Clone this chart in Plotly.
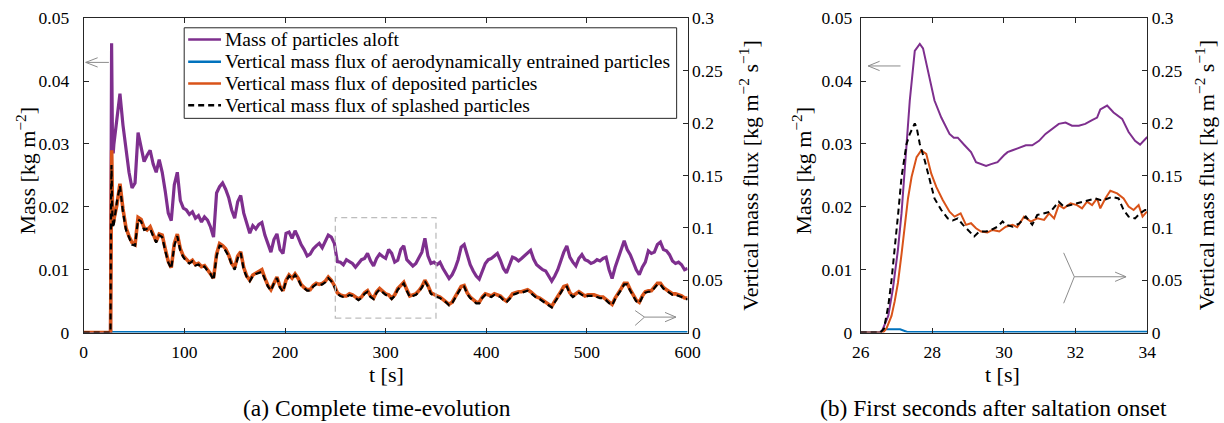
import plotly.graph_objects as go

W, H = 1224, 423
PAGE_MARGIN = 8                       # default body margin of the written page
SX = (W + 2 * PAGE_MARGIN) / W        # page -> picture compensation
SY = (H + 2 * PAGE_MARGIN) / H
FONT = "Liberation Serif, DejaVu Serif, Times New Roman, serif"
AXC = "#262626"

# ---------------- data: panel (a) complete time evolution ----------------
grid_start, grid_step = 30, 3   # regular sampling after onset [s]

t_onset_mass = [0, 26.6, 27.2, 27.7, 28.5, 29.3]
mass_onset = [0, 0, 0.026, 0.046, 0.0316, 0.0285]
mass_grid = [
    0.0300, 0.0345, 0.0380, 0.0330, 0.0290, 0.0255, 0.0230, 0.0238, 0.0318, 0.0295,
    0.0272, 0.0282, 0.0290, 0.0268, 0.0255, 0.0275, 0.0255, 0.0225, 0.0190, 0.0178,
    0.0235, 0.0255, 0.0210, 0.0198, 0.0195, 0.0188, 0.0192, 0.0182, 0.0186, 0.0176,
    0.0184, 0.0179, 0.0168, 0.0152, 0.0222, 0.0232, 0.0238, 0.0228, 0.0215, 0.0195,
    0.0182, 0.0208, 0.0218, 0.0190, 0.0172, 0.0158, 0.0170, 0.0165, 0.0172, 0.0175,
    0.0155, 0.0142, 0.0128, 0.0148, 0.0157, 0.0132, 0.0126, 0.0158, 0.0160, 0.0150,
    0.0162, 0.0152, 0.0140, 0.0132, 0.0122, 0.0125, 0.0133, 0.0138, 0.0142, 0.0135,
    0.0145, 0.0155, 0.0152, 0.0142, 0.0113, 0.0112, 0.0108, 0.0116, 0.0113, 0.0110,
    0.0104, 0.0110, 0.0116, 0.0118, 0.0126, 0.0114, 0.0106, 0.0118, 0.0125, 0.0121,
    0.0118, 0.0132, 0.0126, 0.0112, 0.0115, 0.0132, 0.0138, 0.0116, 0.0110, 0.0106,
    0.0110, 0.0118, 0.0128, 0.0150, 0.0122, 0.0110, 0.0112, 0.0108, 0.0112, 0.0102,
    0.0094, 0.0086, 0.0092, 0.0102, 0.0116, 0.0136, 0.0140, 0.0122, 0.0108, 0.0098,
    0.0090, 0.0085, 0.0098, 0.0110, 0.0116, 0.0118, 0.0122, 0.0126, 0.0115, 0.0102,
    0.0095, 0.0108, 0.0120, 0.0118, 0.0114, 0.0118, 0.0122, 0.0126, 0.0131, 0.0117,
    0.0108, 0.0104, 0.0100, 0.0098, 0.0090, 0.0082, 0.0090, 0.0100, 0.0114, 0.0128,
    0.0138, 0.0120, 0.0112, 0.0106, 0.0118, 0.0124, 0.0116, 0.0114, 0.0110, 0.0112,
    0.0116, 0.0114, 0.0118, 0.0120, 0.0100, 0.0086, 0.0104, 0.0118, 0.0132, 0.0146,
    0.0132, 0.0124, 0.0112, 0.0100, 0.0092, 0.0104, 0.0112, 0.0130, 0.0126, 0.0128,
    0.0140, 0.0144, 0.0132, 0.0130, 0.0124, 0.0114, 0.0110, 0.0112, 0.0108, 0.0100,
    0.0102,
]

t_onset_dep = [0, 26.7, 27.3, 27.8, 28.5, 29.3]
dep_onset = [0, 0, 0.11, 0.174, 0.125, 0.104]
dep_grid = [
    0.108, 0.122, 0.142, 0.118, 0.100, 0.092, 0.086, 0.084, 0.110, 0.108,
    0.100, 0.098, 0.101, 0.094, 0.087, 0.094, 0.093, 0.080, 0.068, 0.062,
    0.085, 0.094, 0.080, 0.073, 0.070, 0.067, 0.069, 0.065, 0.066, 0.063,
    0.064, 0.060, 0.057, 0.052, 0.075, 0.085, 0.083, 0.080, 0.074, 0.066,
    0.062, 0.073, 0.077, 0.062, 0.054, 0.050, 0.055, 0.057, 0.058, 0.060,
    0.052, 0.045, 0.041, 0.048, 0.053, 0.044, 0.040, 0.050, 0.055, 0.052,
    0.056, 0.052, 0.046, 0.043, 0.041, 0.041, 0.045, 0.047, 0.046, 0.047,
    0.049, 0.053, 0.050, 0.045, 0.038, 0.036, 0.035, 0.035, 0.037, 0.036,
    0.034, 0.032, 0.034, 0.038, 0.040, 0.035, 0.033, 0.039, 0.042, 0.039,
    0.037, 0.036, 0.033, 0.036, 0.042, 0.045, 0.048, 0.041, 0.035, 0.036,
    0.037, 0.040, 0.044, 0.050, 0.045, 0.038, 0.036, 0.035, 0.034, 0.032,
    0.030, 0.027, 0.029, 0.034, 0.039, 0.044, 0.045, 0.038, 0.034, 0.031,
    0.029, 0.029, 0.034, 0.037, 0.036, 0.035, 0.037, 0.036, 0.035, 0.032,
    0.030, 0.033, 0.037, 0.038, 0.039, 0.039, 0.040, 0.041, 0.039, 0.036,
    0.034, 0.033, 0.031, 0.029, 0.027, 0.025, 0.030, 0.034, 0.039, 0.044,
    0.045, 0.038, 0.035, 0.037, 0.039, 0.037, 0.035, 0.036, 0.036, 0.036,
    0.035, 0.034, 0.034, 0.032, 0.029, 0.027, 0.033, 0.037, 0.042, 0.047,
    0.047, 0.041, 0.036, 0.031, 0.029, 0.035, 0.039, 0.040, 0.040, 0.043,
    0.047, 0.047, 0.043, 0.041, 0.039, 0.037, 0.037, 0.036, 0.035, 0.033,
    0.033,
]

t_onset_spl = [0, 26.6, 27.2, 27.6, 28.4, 29.3]
spl_onset = [0, 0, 0.13, 0.16, 0.115, 0.100]
spl_grid = [
    0.104, 0.125, 0.140, 0.115, 0.098, 0.090, 0.084, 0.083, 0.108, 0.106,
    0.098, 0.099, 0.099, 0.092, 0.086, 0.093, 0.091, 0.078, 0.067, 0.061,
    0.083, 0.092, 0.078, 0.072, 0.068, 0.066, 0.068, 0.064, 0.065, 0.062,
    0.063, 0.059, 0.056, 0.050, 0.073, 0.083, 0.082, 0.078, 0.073, 0.065,
    0.060, 0.071, 0.076, 0.060, 0.053, 0.049, 0.054, 0.056, 0.057, 0.058,
    0.051, 0.044, 0.040, 0.047, 0.052, 0.043, 0.039, 0.049, 0.054, 0.051,
    0.055, 0.051, 0.045, 0.042, 0.040, 0.040, 0.044, 0.046, 0.045, 0.046,
    0.048, 0.052, 0.049, 0.044, 0.037, 0.035, 0.034, 0.034, 0.036, 0.035,
    0.033, 0.031, 0.033, 0.037, 0.039, 0.034, 0.032, 0.038, 0.041, 0.038,
    0.036, 0.035, 0.032, 0.035, 0.041, 0.044, 0.047, 0.040, 0.034, 0.035,
    0.036, 0.039, 0.043, 0.049, 0.044, 0.037, 0.035, 0.034, 0.033, 0.031,
    0.029, 0.026, 0.028, 0.033, 0.038, 0.043, 0.044, 0.037, 0.033, 0.030,
    0.028, 0.028, 0.033, 0.036, 0.035, 0.034, 0.036, 0.035, 0.034, 0.031,
    0.029, 0.032, 0.036, 0.037, 0.038, 0.038, 0.039, 0.040, 0.038, 0.035,
    0.033, 0.032, 0.030, 0.028, 0.026, 0.024, 0.029, 0.033, 0.038, 0.043,
    0.044, 0.037, 0.034, 0.036, 0.038, 0.036, 0.034, 0.035, 0.035, 0.035,
    0.034, 0.033, 0.033, 0.031, 0.028, 0.026, 0.032, 0.036, 0.041, 0.046,
    0.046, 0.040, 0.035, 0.030, 0.028, 0.034, 0.038, 0.039, 0.039, 0.042,
    0.046, 0.046, 0.042, 0.040, 0.038, 0.036, 0.036, 0.035, 0.034, 0.032,
    0.032,
]

t_aero = [0, 26.6, 27.0, 27.3, 150, 300, 450, 600]
aero_flux = [0, 0, 0.003, 0.0005, 0.0005, 0.0005, 0.0005, 0.0005]

# ---------------- data: panel (b) first seconds ----------------
tb_mass = [26, 26.5, 26.6, 26.77, 26.9, 27.04, 27.14, 27.23, 27.37, 27.51,
           27.6, 27.65, 27.74, 27.88, 28.06, 28.25, 28.48, 28.6, 28.71, 28.9,
           29.08, 29.22, 29.35, 29.5, 29.64, 29.82, 30.0, 30.1, 30.24, 30.42,
           30.61, 30.79, 30.98, 31.16, 31.35, 31.53, 31.72, 31.9, 32.09, 32.27,
           32.46, 32.6, 32.69, 32.88, 33.06, 33.3, 33.48, 33.66, 33.8, 33.9, 34.0]
b_mass = [0, 0, 0.0003, 0.0027, 0.007, 0.0132, 0.019, 0.0263, 0.0369, 0.0448,
          0.0455, 0.0459, 0.0452, 0.0416, 0.0369, 0.0342, 0.0316, 0.031, 0.031, 0.0298,
          0.0287, 0.0271, 0.0268, 0.0265, 0.0268, 0.0271, 0.0282, 0.0287, 0.029, 0.0294,
          0.0298, 0.0298, 0.0305, 0.0316, 0.0324, 0.0332, 0.0334, 0.0329, 0.0329, 0.0332,
          0.0338, 0.0342, 0.0355, 0.0361, 0.035, 0.034, 0.0319, 0.0305, 0.0299, 0.0305, 0.0311]

tb_spl = [26, 26.55, 26.65, 26.77, 26.86, 26.95, 27.05, 27.14, 27.28, 27.37,
          27.51, 27.56, 27.65, 27.79, 27.93, 28.06, 28.25, 28.43, 28.57, 28.71,
          28.85, 29.03, 29.17, 29.31, 29.5, 29.64, 29.82, 29.96, 30.05, 30.24,
          30.42, 30.61, 30.79, 30.93, 31.12, 31.3, 31.53, 31.67, 31.86, 32.04,
          32.23, 32.41, 32.55, 32.69, 32.83, 33.02, 33.2, 33.34, 33.48, 33.66,
          33.8, 33.94, 34.0]
b_spl = [0, 0, 0.004, 0.0255, 0.05, 0.079, 0.115, 0.1485, 0.18, 0.1895,
         0.1996, 0.196, 0.18, 0.164, 0.145, 0.128, 0.117, 0.109, 0.107, 0.109,
         0.103, 0.0965, 0.0918, 0.0965, 0.0965, 0.098, 0.101, 0.106, 0.103, 0.101,
         0.104, 0.1107, 0.103, 0.1123, 0.1139, 0.1154, 0.1249, 0.1202, 0.1217, 0.1233,
         0.1249, 0.1265, 0.128, 0.1265, 0.127, 0.1296, 0.128, 0.117, 0.1107, 0.109,
         0.1138, 0.117, 0.117]

tb_dep = [26, 26.62, 26.72, 26.86, 26.95, 27.04, 27.14, 27.23, 27.32, 27.42,
          27.56, 27.69, 27.83, 27.97, 28.11, 28.29, 28.48, 28.62, 28.79, 28.94,
          29.08, 29.22, 29.36, 29.54, 29.68, 29.87, 30.05, 30.24, 30.37, 30.56,
          30.75, 30.93, 31.12, 31.26, 31.4, 31.53, 31.67, 31.86, 32.04, 32.18,
          32.32, 32.46, 32.6, 32.69, 32.83, 32.97, 33.16, 33.34, 33.48, 33.62,
          33.76, 33.87, 33.99]
b_dep = [0, 0, 0.004, 0.016, 0.03, 0.0476, 0.075, 0.104, 0.128, 0.1485,
         0.1675, 0.1738, 0.1706, 0.1517, 0.139, 0.1265, 0.1154, 0.1107, 0.1138, 0.1028,
         0.1044, 0.0996, 0.0965, 0.0955, 0.098, 0.0965, 0.101, 0.1028, 0.1006, 0.1107,
         0.106, 0.109, 0.1075, 0.1138, 0.109, 0.1217, 0.1186, 0.1233, 0.1217, 0.1186,
         0.1249, 0.1217, 0.128, 0.1186, 0.128, 0.1353, 0.1328, 0.128, 0.1202, 0.117,
         0.1217, 0.1107, 0.1154]

tb_aero = [26, 26.55, 26.65, 27.1, 27.3, 34]
b_aero = [0, 0, 0.0032, 0.0032, 0.0006, 0.0008]

# tick labels
mass_ticks = [0, 0.01, 0.02, 0.03, 0.04, 0.05]
mass_ticktext = ["0", "0.01", "0.02", "0.03", "0.04", "0.05"]
flux_ticks = [0, 0.05, 0.1, 0.15, 0.2, 0.25, 0.3]
flux_ticktext = ["0", "0.05", "0.1", "0.15", "0.2", "0.25", "0.3"]
ta_ticks = [0, 100, 200, 300, 400, 500, 600]
tb_ticks = [26, 28, 30, 32, 34]

names = ["Mass of particles aloft",
         "Vertical mass flux of aerodynamically entrained particles",
         "Vertical mass flux of deposited particles",
         "Vertical mass flux of splashed particles"]
C_PUR, C_BLU, C_ORA, C_BLK = "#7E2F8E", "#0072BD", "#D95319", "#000000"
DASH = "6px,4px"


def grid_times(vals):
    return [grid_start + grid_step * i for i in range(len(vals))]


ta_mass = t_onset_mass + grid_times(mass_grid)
va_mass = mass_onset + mass_grid
ta_dep = t_onset_dep + grid_times(dep_grid)
va_dep = dep_onset + dep_grid
ta_spl = t_onset_spl + grid_times(spl_grid)
va_spl = spl_onset + spl_grid

fig = go.Figure()
# panel (a)
fig.add_trace(go.Scatter(x=ta_mass, y=va_mass, mode="lines", name=names[0], showlegend=False,
                         line=dict(color=C_PUR, width=3.2), xaxis="x", yaxis="y"))
fig.add_trace(go.Scatter(x=t_aero, y=aero_flux, mode="lines", name=names[1], showlegend=False,
                         line=dict(color=C_BLU, width=2.4), xaxis="x", yaxis="y2"))
fig.add_trace(go.Scatter(x=ta_dep, y=va_dep, mode="lines", name=names[2], showlegend=False,
                         line=dict(color=C_ORA, width=3.6), xaxis="x", yaxis="y2"))
fig.add_trace(go.Scatter(x=ta_spl, y=va_spl, mode="lines", name=names[3], showlegend=False,
                         line=dict(color=C_BLK, width=2.2, dash=DASH), xaxis="x", yaxis="y2"))
# panel (b)
fig.add_trace(go.Scatter(x=tb_mass, y=b_mass, mode="lines", name=names[0], showlegend=False,
                         line=dict(color=C_PUR, width=2), xaxis="x2", yaxis="y3"))
fig.add_trace(go.Scatter(x=tb_aero, y=b_aero, mode="lines", name=names[1], showlegend=False,
                         line=dict(color=C_BLU, width=2), xaxis="x2", yaxis="y4"))
fig.add_trace(go.Scatter(x=tb_dep, y=b_dep, mode="lines", name=names[2], showlegend=False,
                         line=dict(color=C_ORA, width=2), xaxis="x2", yaxis="y4"))
fig.add_trace(go.Scatter(x=tb_spl, y=b_spl, mode="lines", name=names[3], showlegend=False,
                         line=dict(color=C_BLK, width=2, dash=DASH), xaxis="x2", yaxis="y4"))


def px(x):
    """picture pixel x -> paper fraction"""
    return (x * SX - PAGE_MARGIN) / W


def py(y):
    """picture pixel y (from top) -> paper fraction"""
    return 1 - (y * SY - PAGE_MARGIN) / H


ydom = [py(334), py(16)]
tickfont = dict(family=FONT, size=17.5, color="#000")
common = dict(showgrid=False, zeroline=False, showline=True, linecolor=AXC, linewidth=1,
              ticks="inside", ticklen=5, tickcolor=AXC, tickfont=tickfont,
              ticklabeloverflow="allow")

fig.update_layout(
    width=W, height=H, margin=dict(l=0, r=0, t=0, b=0),
    paper_bgcolor="white", plot_bgcolor="white",
    font=dict(family=FONT, color="#000"),
    xaxis=dict(domain=[px(83), px(690)], range=[0, 600], tickvals=ta_ticks,
               mirror="ticks", anchor="y", ticklabelstandoff=3, **common),
    yaxis=dict(domain=ydom, range=[0, 0.05], tickvals=mass_ticks, ticktext=mass_ticktext,
               anchor="x", ticklabelstandoff=10, **common),
    yaxis2=dict(range=[0, 0.3], tickvals=flux_ticks, ticktext=flux_ticktext,
                overlaying="y", side="right", anchor="x", **common),
    xaxis2=dict(domain=[px(864), px(1152)], range=[26, 34], tickvals=tb_ticks,
                mirror="ticks", anchor="y3", ticklabelstandoff=3, **common),
    yaxis3=dict(domain=ydom, range=[0, 0.05], tickvals=mass_ticks, ticktext=mass_ticktext,
                anchor="x2", ticklabelstandoff=4, **common),
    yaxis4=dict(range=[0, 0.3], tickvals=flux_ticks, ticktext=flux_ticktext,
                overlaying="y3", side="right", anchor="x2", **common),
    showlegend=False,
)

ann = []
shapes = []


def text_ann(x, y, s, size, angle=0, xanchor="center"):
    ann.append(dict(x=px(x), y=py(y), xref="paper", yref="paper", text=s, showarrow=False,
                    xanchor=xanchor, yanchor="middle", textangle=angle,
                    font=dict(family=FONT, size=size, color="#000")))


TITLE = 22
text_ann(25, 170, "Mass [kg m<sup>−2</sup>]", TITLE, -90)
text_ann(752, 175, "Vertical mass flux [kg m<sup>−2</sup> s<sup>−1</sup>]", TITLE, -90)
text_ann(805, 170, "Mass [kg m<sup>−2</sup>]", TITLE, -90)
text_ann(1210, 175, "Vertical mass flux [kg m<sup>−2</sup> s<sup>−1</sup>]", TITLE, -90)
text_ann(387, 376, "t [s]", TITLE)
text_ann(1007, 376, "t [s]", TITLE)
text_ann(378, 410, "(a) Complete time-evolution", 23.5)
text_ann(997, 410, "(b) First seconds after saltation onset", 23.5)

# ---- legend box (panel a) ----
shapes.append(dict(type="rect", xref="paper", yref="paper",
                   x0=px(184), x1=px(679), y0=py(117.3), y1=py(25.7),
                   line=dict(color=AXC, width=1), fillcolor="white", layer="above"))
leg_rows = [37.5, 60, 82, 104]
leg_styles = [dict(color=C_PUR, width=2.5), dict(color=C_BLU, width=2.5),
              dict(color=C_ORA, width=2.5), dict(color=C_BLK, width=2.5, dash=DASH)]
for yrow, nm, st in zip(leg_rows, names, leg_styles):
    shapes.append(dict(type="line", xref="paper", yref="paper",
                       x0=px(188), x1=px(221), y0=py(yrow), y1=py(yrow), line=st))
    text_ann(223, yrow, nm, 19.5, xanchor="left")

fig.update_layout(annotations=ann)

GRAY = "#8C8C8C"


def seg(x0, y0, x1, y1):
    shapes.append(dict(type="line", xref="paper", yref="paper",
                       x0=px(x0), y0=py(y0), x1=px(x1), y1=py(y1),
                       line=dict(color=GRAY, width=1)))


# left-pointing arrows (mass axis)
for (tipx, tipy, tailx, headx) in [(85, 60.7, 108.3, 97), (871.5, 64.3, 904, 883)]:
    seg(tipx, tipy, tailx, tipy)
    seg(tipx, tipy, headx, tipy - 4.7)
    seg(tipx, tipy, headx, tipy + 4.7)

# right-pointing arrows with fletching (flux axis)
for (fx, fy_top, fy_bot, jx, jy, tipx) in [(637.3, 311.7, 326.7, 646.7, 318.3, 678.3),
                                          (1068, 253.3, 304.3, 1078.7, 277.5, 1130.7)]:
    seg(fx, fy_top, jx, jy)
    seg(fx, fy_bot, jx, jy)
    seg(jx, jy, tipx, jy)
    seg(tipx, jy, tipx - 11, jy - 4.7)
    seg(tipx, jy, tipx - 11, jy + 4.7)

# dashed zoom rectangle in panel (a)
shapes.append(dict(type="rect", xref="x", yref="y", x0=250, x1=350, y0=0.0023, y1=0.0183,
                   line=dict(color="#BDBDBD", width=1.3, dash=DASH),
                   fillcolor="rgba(0,0,0,0)"))
fig.update_layout(shapes=shapes)

fig.write_html("out.html")
